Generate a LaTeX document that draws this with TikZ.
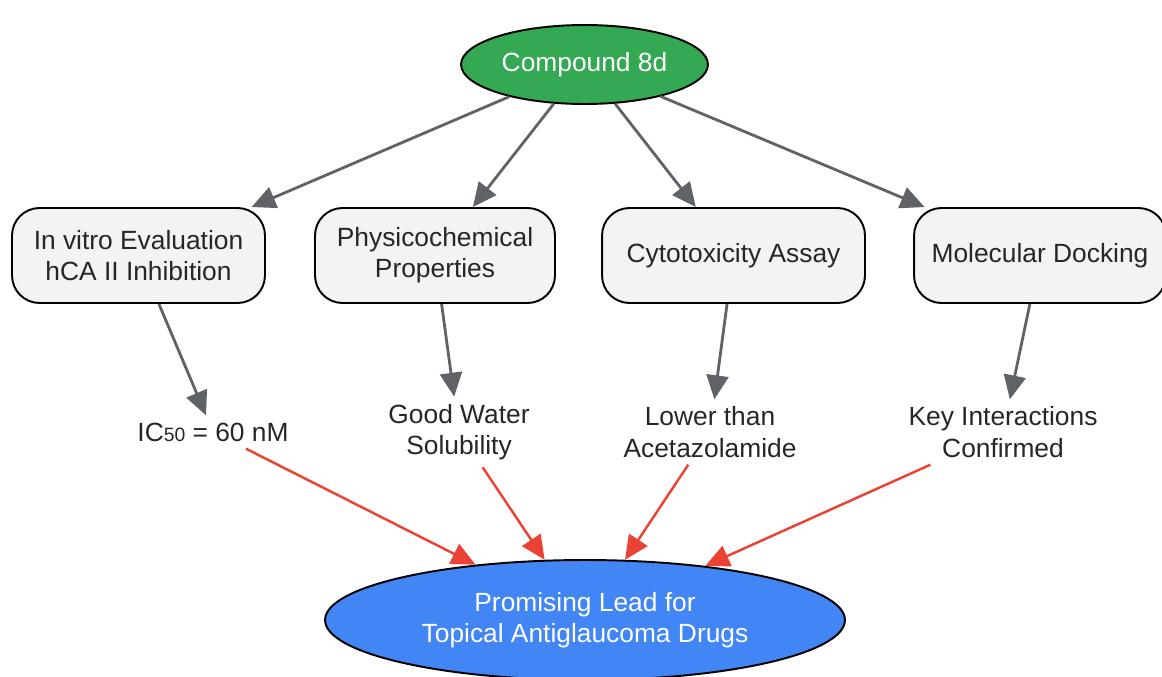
\documentclass[tikz,border=0pt]{standalone}
\usepackage{fontspec}
\setmainfont{Liberation Sans}
\usetikzlibrary{shapes.geometric,arrows.meta}
\definecolor{leadgreen}{HTML}{34A853}
\definecolor{leadblue}{HTML}{4285F4}
\definecolor{boxgray}{HTML}{F1F3F4}
\definecolor{textgray}{HTML}{262626}
\definecolor{arrowgray}{HTML}{5F6368}
\definecolor{arrowred}{HTML}{EA4335}
\begin{document}
\begin{tikzpicture}[x=0.02cm, y=-0.02cm, font=\fontsize{15}{17.8}\selectfont,
    stage/.style={draw=black, line width=1.1pt, fill=boxgray, rounded corners=0.55cm,
        minimum height=1.9cm, align=center, text=textgray},
    result/.style={align=center, text=textgray, inner sep=4pt},
    blob/.style={ellipse, draw=black, line width=1.1pt, text=white, align=center, inner sep=0pt},
    grayarrow/.style={-{Triangle[length=0.48cm,width=0.44cm]}, draw=arrowgray, line width=1.6pt},
    redarrow/.style={-{Triangle[length=0.48cm,width=0.44cm]}, draw=arrowred, line width=1.4pt}]
    \useasboundingbox (0,0) rectangle (1162,676);
    %nodes
    \node[blob, fill=leadgreen, minimum width=4.94cm, minimum height=1.58cm] at (584.5,64.5) (cmpd) {Compound 8d};
    \node[stage, minimum width=5.06cm] at (138.5,255.5) (invitro) {In vitro Evaluation\\hCA II Inhibition};
    \node[stage, minimum width=4.8cm] at (435,255.5) (physchem) {Physicochemical\\Properties};
    \node[stage, minimum width=5.26cm] at (733.5,255.5) (cytotox) {Cytotoxicity Assay};
    \node[stage, minimum width=5.04cm] at (1040,255.5) (docking) {Molecular Docking};
    \node[result] at (213,432) (ic) {IC{\fontsize{11}{12}\selectfont 50} = 60 nM};
    \node[result] at (459,432) (solub) {Good Water\\Solubility};
    \node[result] at (710,432) (lower) {Lower than\\Acetazolamide};
    \node[result] at (1003,432) (keyint) {Key Interactions\\Confirmed};
    \node[blob, fill=leadblue, minimum width=10.4cm, minimum height=2.4cm] at (585,620) (lead) {Promising Lead for\\Topical Antiglaucoma Drugs};
    % connectors
    \path
        (cmpd) edge[grayarrow] (invitro)
        (cmpd) edge[grayarrow] (physchem)
        (cmpd) edge[grayarrow] (cytotox)
        (cmpd) edge[grayarrow] (docking)
        (invitro) edge[grayarrow] (ic)
        (physchem) edge[grayarrow] (solub)
        (cytotox) edge[grayarrow] (lower)
        (docking) edge[grayarrow] (keyint)
        (ic) edge[redarrow] (lead)
        (solub) edge[redarrow] (lead)
        (lower) edge[redarrow] (lead)
        (keyint) edge[redarrow] (lead);
\end{tikzpicture}
\end{document}
